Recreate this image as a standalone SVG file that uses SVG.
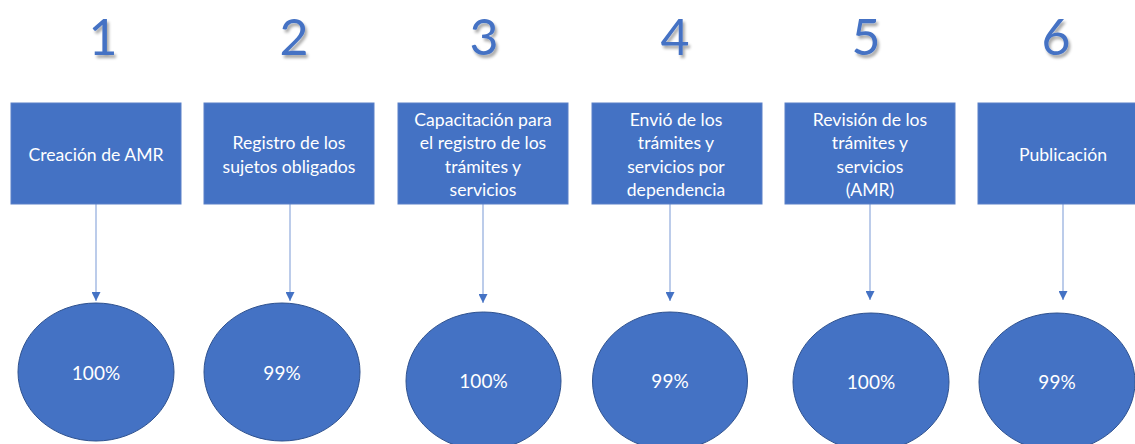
<svg xmlns="http://www.w3.org/2000/svg" width="1135" height="444" viewBox="0 0 1135 444">
<defs>
<filter id="sh" x="-30%" y="-30%" width="160%" height="160%">
<feGaussianBlur in="SourceAlpha" stdDeviation="1.5"/>
<feOffset dx="2" dy="3" result="b"/>
<feComponentTransfer><feFuncA type="linear" slope="0.35"/></feComponentTransfer>
<feMerge><feMergeNode/><feMergeNode in="SourceGraphic"/></feMerge>
</filter>
<marker id="ah" viewBox="0 0 10 10" refX="10" refY="5" markerWidth="9" markerHeight="9" markerUnits="userSpaceOnUse" orient="auto">
<path d="M0,0 L10,5 L0,10 z" fill="#4472C4"/>
</marker>
<style>
.num{font-family:Lato,"Open Sans",sans-serif;font-size:50px;fill:#4472C4;text-anchor:middle;filter:url(#sh)}
.box{fill:#4472C4;stroke:#5a80c8;stroke-width:1}
.ell{fill:#4472C4;stroke:#2F528F;stroke-width:1}
.t{font-family:Lato,"Open Sans",sans-serif;font-size:17.6px;fill:#ffffff;text-anchor:middle}
.p{font-family:Lato,"Open Sans",sans-serif;font-size:19px;fill:#ffffff;text-anchor:middle}
.c{stroke:#8FAADC;stroke-width:1.2;fill:none;marker-end:url(#ah)}
</style>
</defs>
<rect width="1135" height="444" fill="#ffffff"/>
<g id="numbers">
<text class="num" x="103" y="55">1</text>
<text class="num" x="294" y="55">2</text>
<text class="num" x="484" y="55">3</text>
<text class="num" x="675" y="55">4</text>
<text class="num" x="866" y="55">5</text>
<text class="num" x="1056" y="55">6</text>
</g>
<g id="connectors">
<line class="c" x1="96" y1="204" x2="96" y2="301"/>
<line class="c" x1="290" y1="204" x2="290" y2="301"/>
<line class="c" x1="483" y1="204" x2="483" y2="303"/>
<line class="c" x1="670" y1="204" x2="670" y2="301"/>
<line class="c" x1="870" y1="204" x2="870" y2="300"/>
<line class="c" x1="1063" y1="204" x2="1063" y2="300"/>
</g>
<g id="step1">
<rect class="box" x="11" y="103" width="170" height="101"/>
<text class="t" x="96" y="161">Creación de AMR</text>
</g>
<g id="step2">
<rect class="box" x="204" y="103" width="170" height="101"/>
<text class="t" x="289" y="149">Registro de los</text>
<text class="t" x="289" y="173">sujetos obligados</text>
</g>
<g id="step3">
<rect class="box" x="398" y="103" width="170" height="101"/>
<text class="t" x="483" y="126">Capacitación para</text>
<text class="t" x="483" y="149">el registro de los</text>
<text class="t" x="483" y="173">trámites y</text>
<text class="t" x="483" y="196">servicios</text>
</g>
<g id="step4">
<rect class="box" x="592" y="103" width="170" height="101"/>
<text class="t" x="676" y="126">Envió de los</text>
<text class="t" x="676" y="149">trámites y</text>
<text class="t" x="676" y="173">servicios por</text>
<text class="t" x="676" y="196">dependencia</text>
</g>
<g id="step5">
<rect class="box" x="785" y="103" width="170" height="101"/>
<text class="t" x="870" y="126">Revisión de los</text>
<text class="t" x="870" y="149">trámites y</text>
<text class="t" x="870" y="173">servicios</text>
<text class="t" x="870" y="196">(AMR)</text>
</g>
<g id="step6">
<rect class="box" x="978" y="103" width="170" height="101"/>
<text class="t" x="1063" y="161">Publicación</text>
</g>
<g id="result1">
<ellipse class="ell" cx="96" cy="372" rx="78" ry="69"/>
<text class="p" x="96" y="380">100%</text>
</g>
<g id="result2">
<ellipse class="ell" cx="282" cy="372" rx="78" ry="69"/>
<text class="p" x="282" y="380">99%</text>
</g>
<g id="result3">
<ellipse class="ell" cx="483.5" cy="381" rx="77.5" ry="69"/>
<text class="p" x="483.5" y="388">100%</text>
</g>
<g id="result4">
<ellipse class="ell" cx="670" cy="381" rx="77.5" ry="69"/>
<text class="p" x="670" y="388">99%</text>
</g>
<g id="result5">
<ellipse class="ell" cx="871" cy="382" rx="78" ry="69"/>
<text class="p" x="871" y="389">100%</text>
</g>
<g id="result6">
<ellipse class="ell" cx="1057" cy="382" rx="78" ry="69"/>
<text class="p" x="1057" y="389">99%</text>
</g>
</svg>
